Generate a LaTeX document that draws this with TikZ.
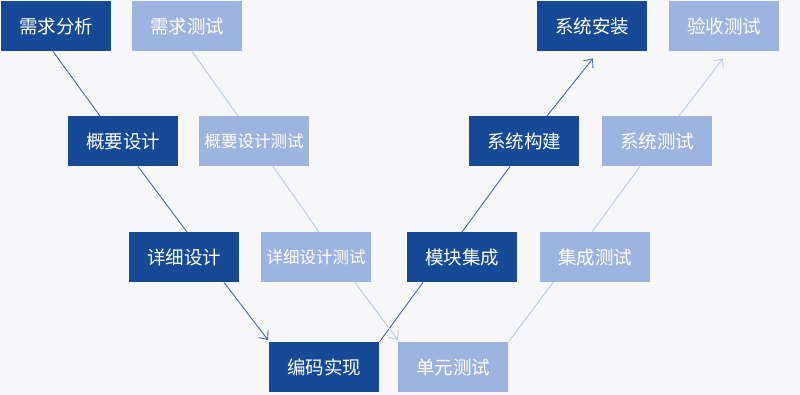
\documentclass[tikz,border=0pt]{standalone}
\usepackage{fontspec}
\setmainfont{Noto Sans CJK SC}
\usetikzlibrary{arrows.meta}
\definecolor{bgc}{RGB}{247,247,249}
\definecolor{darkbox}{RGB}{22,74,151}
\definecolor{lightbox}{RGB}{157,180,224}
\definecolor{darkln}{RGB}{72,105,168}
\definecolor{lightln}{RGB}{186,201,233}
\tikzset{
  boxbase/.style={anchor=north west, minimum width=110pt, minimum height=50pt, inner sep=0pt, text=white, font=\fontsize{18.5}{21}\selectfont},
  darkbx/.style={boxbase, fill=darkbox},
  lightbx/.style={boxbase, fill=lightbox},
  sixch/.style={font=\fontsize{16.5}{19}\selectfont},
  darkline/.style={draw=darkln, line width=0.9pt},
  lightline/.style={draw=lightln, line width=0.9pt},
  tipv/.style={-{Straight Barb[length=7pt,width=12pt]}}
}
\begin{document}
\begin{tikzpicture}[x=1pt,y=-1pt]
\fill[bgc] (0,0) rectangle (800,395);
\useasboundingbox (0,0) rectangle (800,395);
% dark boxes
\node[darkbx] (xqfx) at (1,1) {需求分析};
\node[darkbx] (gysj) at (68,116) {概要设计};
\node[darkbx] (xxsj) at (129,232) {详细设计};
\node[darkbx] (bmsx) at (269,342) {编码实现};
\node[darkbx] (mkjc) at (407,232) {模块集成};
\node[darkbx] (xtgj) at (469,116) {系统构建};
\node[darkbx] (xtaz) at (537,1) {系统安装};
% light boxes
\node[lightbx] (xqcs) at (132,1) {需求测试};
\node[lightbx,sixch] (gycs) at (199,116) {概要设计测试};
\node[lightbx,sixch] (xxcs) at (261,232) {详细设计测试};
\node[lightbx] (dycs) at (398,342) {单元测试};
\node[lightbx] (jccs) at (540,232) {集成测试};
\node[lightbx] (xtcs) at (602,116) {系统测试};
\node[lightbx] (yscs) at (669,1) {验收测试};
% dark connectors
\draw[darkline] ([xshift=52pt]xqfx.south west) -- ([xshift=32pt]gysj.north west);
\draw[darkline] ([xshift=70pt]gysj.south west) -- ([xshift=58pt]xxsj.north west);
\draw[darkline,tipv] ([xshift=95pt]xxsj.south west) -- ([xshift=-1pt,yshift=2pt]bmsx.north west);
\draw[darkline] (bmsx.north east) -- ([xshift=16pt]mkjc.south west);
\draw[darkline] ([xshift=55pt]mkjc.north west) -- ([xshift=41pt]xtgj.south west);
\draw[darkline,tipv] ([xshift=78pt]xtgj.north west) -- ([xshift=56pt,yshift=-7pt]xtaz.south west);
% light connectors
\draw[lightline] ([xshift=60pt]xqcs.south west) -- ([xshift=39pt]gycs.north west);
\draw[lightline] ([xshift=74pt]gycs.south west) -- ([xshift=58pt]xxcs.north west);
\draw[lightline,tipv] ([xshift=94pt]xxcs.south west) -- ([yshift=2pt]dycs.north west);
\draw[lightline] (dycs.north east) -- ([xshift=13pt]jccs.south west);
\draw[lightline] ([xshift=52pt]jccs.north west) -- ([xshift=38pt]xtcs.south west);
\draw[lightline,tipv] ([xshift=77pt]xtcs.north west) -- ([xshift=54pt,yshift=-7pt]yscs.south west);
\end{tikzpicture}
\end{document}
